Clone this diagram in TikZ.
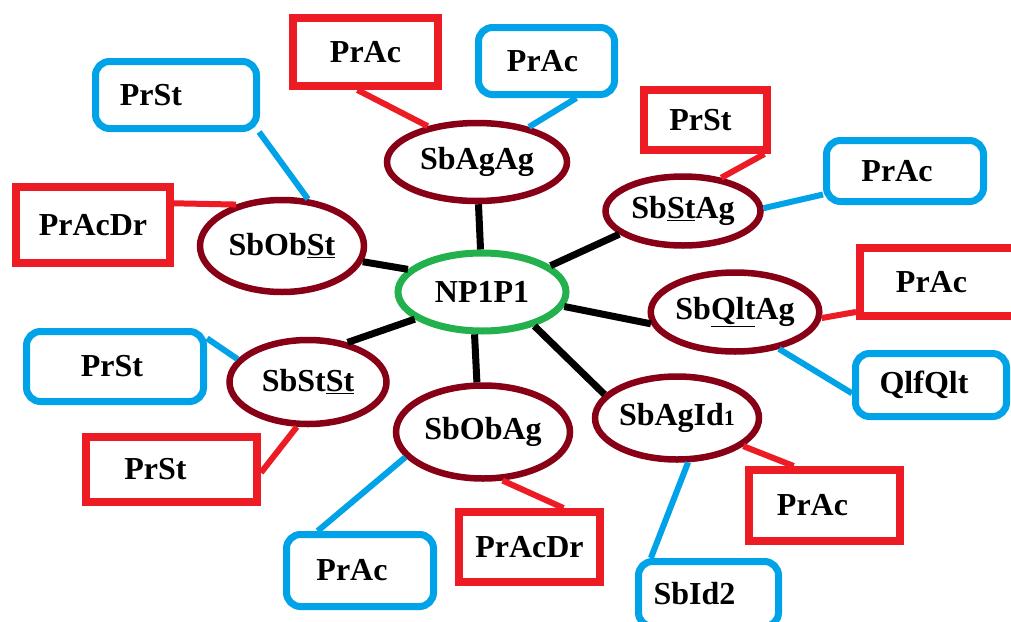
\documentclass[tikz,border=0pt]{standalone}
\usepackage{fontspec}
\setmainfont{Liberation Serif}
\usetikzlibrary{shapes.geometric}
\definecolor{pred}{HTML}{ED1C24}
\definecolor{pblue}{HTML}{00A2E8}
\definecolor{pmaroon}{HTML}{880015}
\definecolor{pgreen}{HTML}{22B14C}
\newcommand\shiftL[2]{#2\hspace*{#1pt}}
\newcommand\ulx[1]{\underline{#1}}
\begin{document}
\begin{tikzpicture}[x=1pt,y=-1pt,
  every node/.style={font=\bfseries\fontsize{32}{38}\selectfont, inner sep=0pt},
  ell/.style={ellipse, draw=pmaroon, line width=6.5pt},
  hub/.style={ellipse, draw=pgreen, line width=7pt},
  rbox/.style={rectangle, draw=pred, line width=8pt},
  bbox/.style={rectangle, rounded corners=14pt, draw=pblue, line width=7pt},
  blk/.style={line width=7pt, black},
  rl/.style={line width=6pt, pred},
  bl/.style={line width=6pt, pblue},
]
\useasboundingbox (0,0) rectangle (1011,621);

% ellipses
\node[hub, minimum width=168pt, minimum height=78pt] (hub) at (482,292) {NP1P1};
\node[ell, minimum width=180pt, minimum height=78pt] (agag) at (477,162) {SbAgAg};
\node[ell, minimum width=164pt, minimum height=92pt] (obst) at (282,246) {SbOb\ulx{St}};
\node[ell, minimum width=155pt, minimum height=69pt] (stag) at (683,211) {Sb\ulx{St}Ag};
\node[ell, minimum width=158pt, minimum height=79pt] (qltag) at (735,312) {Sb\ulx{Qlt}Ag};
\node[ell, minimum width=161pt, minimum height=83pt] (agid) at (677,418) {SbAgId{\fontsize{22}{22}\selectfont 1}};
\node[ell, minimum width=174pt, minimum height=93pt] (obag) at (483,432) {SbObAg};
\node[ell, minimum width=157pt, minimum height=84pt] (stst) at (308,382) {SbSt\ulx{St}};

% boxes
\node[rbox, minimum width=145pt, minimum height=68pt] (rA) at (365.5,52) {PrAc};
\node[bbox, minimum width=136pt, minimum height=67pt] (bA) at (546.5,61) {\shiftL{8}{PrAc}};
\node[bbox, minimum width=161pt, minimum height=67pt] (bS1) at (176,95) {\shiftL{50}{PrSt}};
\node[rbox, minimum width=154pt, minimum height=76pt] (rD1) at (93,225) {PrAcDr};
\node[rbox, minimum width=123pt, minimum height=60pt] (rS1) at (705.5,120) {\shiftL{10}{PrSt}};
\node[bbox, minimum width=157pt, minimum height=61pt] (bA2) at (905,171) {\shiftL{16}{PrAc}};
\node[rbox, minimum width=166pt, minimum height=68pt] (rA2) at (943,282) {\shiftL{23}{PrAc}};
\node[bbox, minimum width=151pt, minimum height=63pt] (bQ) at (931,385) {\shiftL{14}{QlfQlt}};
\node[rbox, minimum width=151pt, minimum height=71pt] (rA3) at (824.5,505.5) {\shiftL{24}{PrAc}};
\node[bbox, minimum width=140pt, minimum height=65pt] (bI) at (708.5,594) {\shiftL{28}{SbId2}};
\node[rbox, minimum width=141pt, minimum height=70pt] (rD2) at (529.5,547) {PrAcDr};
\node[bbox, minimum width=147pt, minimum height=72pt] (bA3) at (360,570.5) {\shiftL{16}{PrAc}};
\node[rbox, minimum width=171pt, minimum height=65pt] (rS2) at (171.5,469.5) {\shiftL{32}{PrSt}};
\node[bbox, minimum width=177pt, minimum height=70pt] (bS2) at (115,366.5) {\shiftL{6}{PrSt}};

% black connectors
\draw[blk] (hub.92) -- (agag.-88);
\draw[blk] (hub.163.7) -- (obst.-11.7);
\draw[blk] (hub.21.7) -- (stag.200);
\draw[blk] (hub.-10.6) -- (qltag.188);
\draw[blk] (hub.-33.4) -- (agid.162);
\draw[blk] (hub.-100) -- (obag.97);
\draw[blk] (hub.202) -- (stst.45.7);

% coloured connectors
\draw[rl] (rA.258) -- (agag.144.5);
\draw[bl] (bA.-51.5) -- (agag.34.5);
\draw[bl] (bS1.-24.4) -- (obst.61.5);
\draw[rl] (rD1.15.9) -- (obst.138);
\draw[rl] (rS1.-30.8) -- (stag.41);
\draw[bl] (bA2.196.7) -- (stag.2);
\draw[rl] (rA2.199.7) -- (qltag.-4.3);
\draw[bl] (bQ.186) -- (qltag.-40.6);
\draw[rl] (rA3.128.8) -- (agid.-23.9);
\draw[bl] (bI.148) -- (agid.-76.6);
\draw[rl] (rD2.49.8) -- (obag.-68);
\draw[bl] (bA3.137) -- (obag.198.4);
\draw[bl] (bS2.17.3) -- (stst.162);
\draw[rl] (rS2.-2) -- (stst.256);
\end{tikzpicture}
\end{document}
